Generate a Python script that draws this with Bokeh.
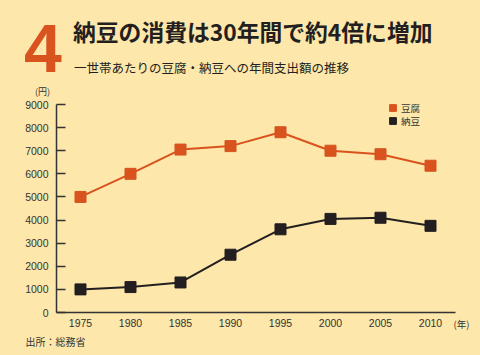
from bokeh.plotting import figure
from bokeh.models import Range1d, FixedTicker, Label, Legend, LegendItem, Div
from bokeh.layouts import column
from bokeh.embed import file_html
from bokeh.resources import INLINE

# ---- data ----
years = [1975, 1980, 1985, 1990, 1995, 2000, 2005, 2010]
tofu = [5000, 6000, 7050, 7200, 7800, 7000, 6850, 6350]
natto = [1000, 1100, 1300, 2500, 3600, 4050, 4100, 3750]
y_ticks = [0, 1000, 2000, 3000, 4000, 5000, 6000, 7000, 8000, 9000]
series_names = ["豆腐", "納豆"]
big_number = "4"
title_text = "納豆の消費は30年間で約4倍に増加"
subtitle_text = "一世帯あたりの豆腐・納豆への年間支出額の推移"
y_unit = "(円)"
x_unit = "(年)"
source_text = "出所：総務省"

BG = "#FDE7AA"
ORANGE = "#D9531E"
DARK = "#231F20"
JP = "'Noto Sans CJK JP'"
NUM = "Liberation Sans"

HEAD_H = 97

# ---- header ----
def span(text, left, top, size, color=DARK, font=JP, weight="normal"):
    return (f'<span style="position:absolute;left:{left}px;top:{top}px;'
            f'font-family:{font};font-size:{size}px;font-weight:{weight};'
            f'color:{color};line-height:1;white-space:nowrap;">{text}</span>')

html = (f'<div style="position:relative;width:480px;height:{HEAD_H}px;'
        f'background:{BG};overflow:hidden;">'
        + span(big_number, 24, 14, 68, color=ORANGE,
               font="'Liberation Sans Narrow','Liberation Sans'", weight="bold")
        + span(title_text, 73, 20.6, 22.8, weight="bold")
        + span(subtitle_text, 74, 61.8, 12.5)
        + span(y_unit, 35, 87, 9, color="#333333")
        + '</div>')
head = Div(text=html, width=480, height=HEAD_H, margin=0,
           styles={"background-color": BG, "padding": "0", "margin": "0"})

# ---- main chart ----
p = figure(width=480, height=355 - HEAD_H, output_backend="svg",
           toolbar_location=None,
           x_range=Range1d(1972.6, 2012.5), y_range=Range1d(0, 9000),
           min_border_left=56, min_border_right=25, min_border_top=7,
           min_border_bottom=43, margin=0)
p.background_fill_color = BG
p.border_fill_color = BG
p.outline_line_color = None
p.xgrid.visible = False
p.ygrid.visible = False

yax = p.yaxis[0]
yax.ticker = FixedTicker(ticks=y_ticks)
yax.major_tick_in = 9
yax.major_tick_out = 0
yax.minor_tick_line_color = None
yax.axis_line_color = "#333333"
yax.axis_line_width = 1.5
yax.major_tick_line_color = "#333333"
yax.major_tick_line_width = 1.5
yax.major_label_standoff = 8
yax.major_label_text_font = NUM
yax.major_label_text_font_size = "10.5px"
yax.major_label_text_color = "#333333"

xax = p.xaxis[0]
xax.ticker = FixedTicker(ticks=years)
xax.major_tick_in = 0
xax.major_tick_out = 0
xax.minor_tick_line_color = None
xax.axis_line_color = "#333333"
xax.axis_line_width = 1.5
xax.major_label_standoff = 6
xax.major_label_text_font = NUM
xax.major_label_text_font_size = "10.5px"
xax.major_label_text_color = "#333333"

p.line(years, tofu, line_color=ORANGE, line_width=2)
r_tofu = p.scatter(years, tofu, marker="square", size=11, fill_color=ORANGE,
                   line_color=ORANGE)
p.line(years, natto, line_color=DARK, line_width=2)
r_natto = p.scatter(years, natto, marker="square", size=11, fill_color=DARK,
                    line_color=DARK)

def add_legend(name, renderer, loc):
    lg = Legend(items=[LegendItem(label=name, renderers=[renderer])],
                location=loc, glyph_width=17, glyph_height=17, padding=0,
                margin=0, label_standoff=0, label_height=17,
                label_text_font="Noto Sans CJK JP", label_text_font_size="9.5px",
                label_text_color="#333333",
                background_fill_alpha=0, border_line_color=None)
    p.add_layout(lg, "center")

add_legend(series_names[0], r_tofu, (328, 196))
add_legend(series_names[1], r_natto, (328, 183))

p.add_layout(Label(x=-2, y=-11, x_units="screen", y_units="screen",
                   text=x_unit, text_font="Noto Sans CJK JP",
                   text_font_size="9.5px", text_color="#333333",
                   text_baseline="middle"), "right")
p.add_layout(Label(x=-31, y=3, x_units="screen", y_units="screen",
                   text=source_text, text_font="Noto Sans CJK JP",
                   text_font_size="10px", text_color="#333333",
                   text_baseline="middle"), "below")

layout = column(head, p, spacing=0, margin=0,
                styles={"background-color": BG})
open("out.html", "w").write(file_html(layout, INLINE))
